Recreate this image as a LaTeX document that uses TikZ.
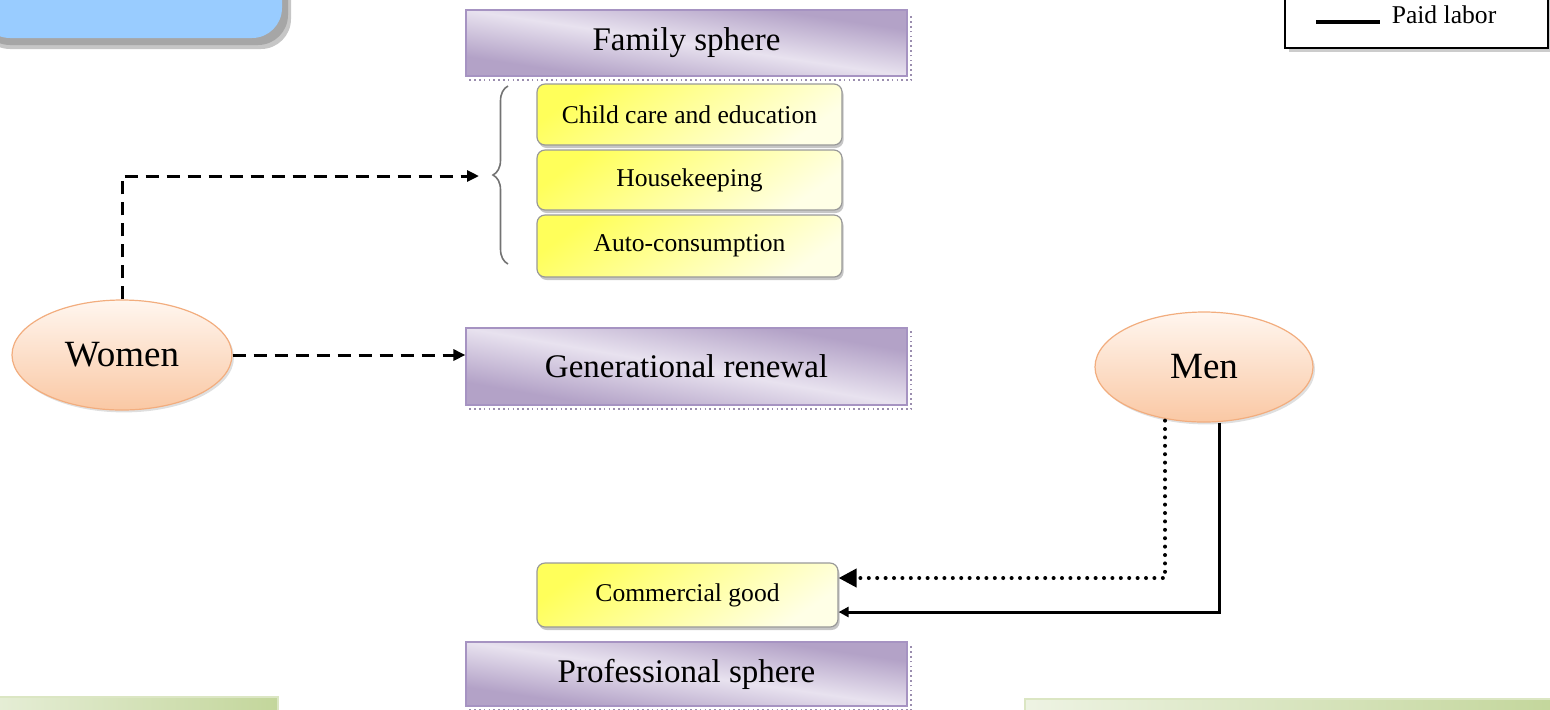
\documentclass[tikz,border=0pt]{standalone}
\usepackage{fontspec}
\setmainfont{Liberation Serif}
\usetikzlibrary{arrows.meta,shadows,calc,decorations.pathreplacing,shapes.geometric}
\definecolor{purD}{HTML}{B3A2C7}
\definecolor{purL}{HTML}{E8E2EF}
\definecolor{purB}{HTML}{A693C2}
\definecolor{yelD}{HTML}{FFFF5A}
\definecolor{yelL}{HTML}{FFFFE6}
\definecolor{pchT}{HTML}{FFF6EF}
\definecolor{pchB}{HTML}{FAC8A4}
\definecolor{pchE}{HTML}{F2AD7E}
\definecolor{bluF}{HTML}{99CCFF}
\definecolor{grnL}{HTML}{E6EED7}
\definecolor{grnD}{HTML}{C3D69B}
% diagonal purple background: centre (px), width (px), height (px)
\newcommand\purshade[4]{%
  \pgfmathsetmacro\psx{#1*0.5}\pgfmathsetmacro\psy{-#2*0.5}%
  \pgfmathsetmacro\psh{#4*0.25}\pgfmathsetmacro\psk{#3/#4}%
  \begin{scope}[transform canvas={shift={(\psx pt,\psy pt)}, xscale=\psk}]
    \shade[top color=purD, bottom color=purD, middle color=purL, shading angle=-45]
      (-\psh pt,-\psh pt) rectangle (\psh pt,\psh pt);
  \end{scope}}
\tikzset{
  sphere/.style={draw=purB, line width=0.6pt, minimum width=220.5pt, inner sep=0pt,
    font=\fontsize{16.5}{18}\selectfont},
  ybox/.style={draw=gray!80, line width=0.6pt, rounded corners=4pt, top color=yelD, bottom color=yelL,
    shading angle=35, minimum width=152.5pt, inner sep=0pt,
    drop shadow={shadow xshift=0.8pt, shadow yshift=-1.5pt, opacity=0.45, fill=gray},
    font=\fontsize{12.8}{14}\selectfont},
  person/.style={ellipse, draw=pchE, line width=0.6pt, top color=pchT, bottom color=pchB,
    inner sep=0pt, drop shadow={shadow xshift=1pt, shadow yshift=-1.2pt, opacity=0.25, fill=gray},
    font=\fontsize{18.5}{20}\selectfont},
  pshadow/.style={draw=purB!70!gray, line width=1.2pt, dash pattern=on 0.8pt off 1.6pt},
  dashedarrow/.style={line width=1.5pt, dash pattern=on 6.5pt off 4pt, -{Triangle[length=6pt,width=5.5pt]}},
  dottedarrow/.style={line width=2pt, line cap=round, dash pattern=on 0pt off 4.2pt, -{Triangle[length=9pt,width=9pt]}},
  solidarrow/.style={line width=1.5pt, -{Triangle[length=5pt,width=5pt]}},
}
\begin{document}
\begin{tikzpicture}[x=0.5pt,y=-0.5pt]
\useasboundingbox (0,0) rectangle (1550,709);
\begin{scope}
\clip (0,0) rectangle (1550,709);
% top-left blue box
\fill[gray!45, rounded corners=15pt] (-20,-30) rectangle (291,49);
\fill[gray!70, rounded corners=15pt] (-20,-30) rectangle (288,45);
\fill[bluF, rounded corners=15pt] (-20,-30) rectangle (282,38);
% legend box
\fill[gray!40] (1289,-10) rectangle (1552,52);
\draw[fill=white, line width=0.9pt] (1285,-10) rectangle (1548,48);
\draw[line width=1.6pt] (1316,22) -- (1380,22);
\node[font=\fontsize{12.8}{14}\selectfont] (legpaid) at (1444,15) {Paid labor};
% bottom green boxes
\shade[left color=grnL, right color=grnD, draw=grnD!60!white, line width=0.6pt] (-10,697) rectangle (278,730);
\shade[left color=grnL!70!white, right color=grnD, draw=grnD!60!white, line width=0.6pt] (1025,699) rectangle (1560,730);
% purple backgrounds
\purshade{686.5}{43}{441}{66}
\purshade{686.5}{366.5}{441}{77}
\purshade{686.5}{674}{441}{64}
\end{scope}

% spheres
\node[sphere, minimum height=33pt] (fam) at (686.5,43) {Family sphere};
\node[sphere, minimum height=38.5pt] (gen) at (686.5,366.5) {Generational renewal};
\node[sphere, minimum height=32pt] (prof) at (686.5,674) {Professional sphere};
\foreach \n in {fam,gen,prof}{
  \draw[pshadow] ([shift={(2pt,-1.8pt)}]\n.south west) -- ([shift={(1.8pt,-1.8pt)}]\n.south east) -- ([shift={(1.8pt,-2pt)}]\n.north east);
}

% yellow boxes
\node[ybox, minimum height=30.5pt] (child) at (689.5,114.5) {Child care and education};
\node[ybox, minimum height=30pt] (house) at (689.5,180) {Housekeeping};
\node[ybox, minimum height=31pt] (auto) at (689.5,246) {Auto-consumption};
\node[ybox, minimum width=150.5pt, minimum height=32pt] (comm) at (687.5,595) {Commercial good};

% brace
\draw[gray!90!black, line width=0.8pt, decorate, decoration={brace, amplitude=7.5pt}] (508,264) -- (508,86);
\coordinate (bt) at (479,176);

% persons
\node[person, minimum width=110pt, minimum height=55pt] (women) at (122,355) {Women};
\node[person, minimum width=109pt, minimum height=55pt] (men) at (1204,367) {Men};

% connectors
\draw[dashedarrow] (women.north) |- (bt);
\draw[dashedarrow] (women.east) -- (women.east -| gen.west);
\draw[dottedarrow] ($(men.south)+(-39,-2)$) |- ($(comm.east)+(0,-17)$);
\draw[solidarrow] ($(men.south)+(15,0)$) |- ($(comm.east)+(0,17)$);
\end{tikzpicture}
\end{document}
